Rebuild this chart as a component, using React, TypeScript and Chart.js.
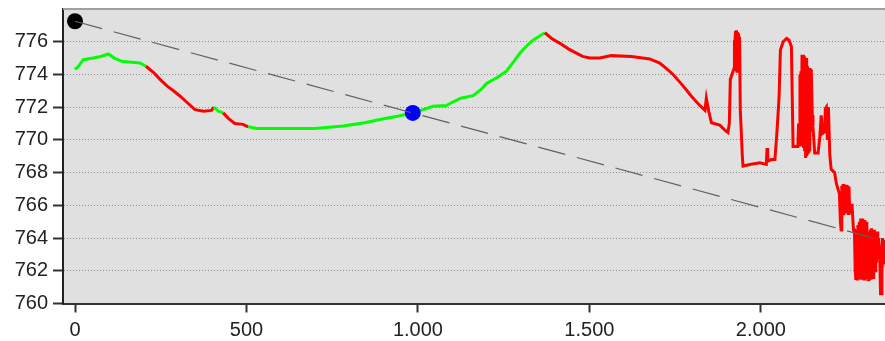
import React, { useEffect, useRef } from "react";
import { Chart, registerables } from "chart.js";

Chart.register(...registerables);

// Elevation profile: distance (m) and elevation (m)
const profileDistance = [
  0, 10, 24, 53, 75, 97, 115, 136, 165, 190, 207,
  230, 248, 268, 287, 305, 326, 350, 375, 398, 405,
  418, 432, 448, 466, 490, 505,
  530, 600, 700, 782, 845, 889, 940, 985, 1015, 1044, 1083, 1100, 1125, 1161, 1185, 1200,
  1230, 1258, 1280, 1297, 1320, 1336, 1370,
  1390, 1414, 1440, 1462, 1480, 1501, 1530, 1564, 1623, 1676, 1705, 1725, 1744, 1765, 1783,
  1800, 1822, 1837, 1841, 1848, 1853, 1856, 1880, 1895, 1904, 1908, 1911, 1919, 1922,
  1923, 1926, 1927.5, 1929, 1930.5, 1932, 1933.5, 1935, 1936.5, 1938, 1940, 1946, 1948,
  1968, 1997, 2016, 2018, 2020, 2031, 2041, 2047, 2053, 2057, 2065, 2075, 2082, 2089, 2094,
  2108, 2110, 2112, 2114, 2115.5, 2117, 2118.5, 2120, 2121.5, 2123, 2124.5, 2126, 2127.5, 2129,
  2130.5, 2132, 2133.5, 2135, 2136.5, 2138, 2139.5, 2141, 2142.5, 2144, 2145.5, 2147, 2150, 2152,
  2157, 2167, 2172, 2176, 2180, 2186, 2188, 2191, 2194, 2197, 2201, 2205, 2215, 2220, 2229,
  2232, 2234, 2236, 2238, 2240, 2242, 2244, 2246, 2249, 2251, 2253, 2255, 2257, 2259, 2262,
  2266, 2270, 2273, 2275, 2277, 2279, 2281, 2283, 2285, 2287, 2289, 2291, 2293, 2295, 2297,
  2299, 2301, 2303, 2305, 2307, 2309, 2311, 2313, 2315, 2317, 2319, 2321, 2323, 2325, 2327,
  2329, 2331, 2333, 2335, 2337, 2339, 2341, 2343, 2345, 2347, 2349, 2351, 2353, 2355, 2357,
  2359, 2361, 2365,
];
const profileElevation = [
  774.3, 774.5, 774.9, 775.0, 775.1, 775.25, 775.0, 774.8, 774.75, 774.7, 774.5,
  774.1, 773.7, 773.3, 773.0, 772.7, 772.3, 771.85, 771.75, 771.8, 772.0,
  771.75, 771.65, 771.3, 771.0, 770.95, 770.8,
  770.7, 770.7, 770.7, 770.85, 771.05, 771.25, 771.45, 771.65, 771.85, 772.05, 772.1, 772.3, 772.55, 772.7, 773.1, 773.45,
  773.8, 774.2, 774.8, 775.3, 775.8, 776.1, 776.55,
  776.2, 775.9, 775.55, 775.3, 775.1, 775.0, 775.0, 775.15, 775.1, 774.95, 774.7, 774.35, 774.0, 773.5, 773.05,
  772.6, 772.1, 771.8, 772.55, 771.75, 771.3, 771.05, 770.9, 770.6, 770.45, 771.0, 773.7, 774.2, 774.4,
  776.1, 776.65, 774.2, 776.7, 774.2, 776.6, 774.3, 776.5, 774.4, 776.3, 771.85, 769.0, 768.4,
  768.5, 768.6, 768.5, 769.5, 768.7, 768.8, 768.8, 770.5, 772.55, 775.5, 776.0, 776.2, 776.1, 775.7, 769.6,
  769.6, 771.0, 769.8, 774.0, 769.7, 774.2, 769.6, 775.2, 769.6, 775.2, 769.5, 775.1, 769.3, 775.0,
  768.9, 775.0, 769.0, 774.5, 769.1, 774.4, 769.2, 774.4, 769.3, 774.35, 770.5, 774.3, 771.5, 770.8,
  769.2, 769.2, 770.2, 771.5, 770.4, 770.5, 771.9, 772.0, 770.0, 772.0, 769.1, 768.2, 768.0, 767.35, 766.7,
  765.0, 764.5, 767.2, 765.4, 767.3, 765.4, 767.2, 765.5, 767.25, 765.5, 767.2, 765.5, 767.15, 765.5, 766.0,
  766.0, 764.5, 764.5, 762.0, 761.45, 764.5, 761.5, 764.8, 761.5, 765.0, 761.5, 765.2, 761.45, 765.2, 761.5,
  765.1, 761.5, 765.1, 761.5, 765.0, 761.5, 764.4, 761.45, 764.4, 762.0, 764.5, 761.45, 764.6, 762.0, 764.5,
  761.5, 764.5, 762.0, 764.4, 762.5, 764.4, 763.0, 764.0, 763.1, 762.5, 760.6, 760.6, 763.5, 764.0, 762.5,
  763.9, 763.0, 763.5,
];
// distance intervals where the profile is drawn green (rest is red)
const greenRanges = [
  [0, 207],
  [405, 432],
  [505, 1370],
  [1923, 1926],
];

// markers (start point black, current point blue)
const markerDistance = [0, 985];
const markerElevation = [777.25, 771.65];
const markerColors = ["#000000", "#0000ff"];

// dashed straight line
const trendDistance = [0, 2400];
const trendElevation = [777.25, 763.59];

const xTicks = [0, 500, 1000, 1500, 2000];
const yTicks = [760, 762, 764, 766, 768, 770, 772, 774, 776];

const fmt = (v: number) =>
  String(v).replace(/\B(?=(\d{3})+(?!\d))/g, ".");

const isGreen = (x: number) =>
  greenRanges.some(([a, b]) => x >= a && x < b);

export default function App() {
  const ref = useRef<HTMLCanvasElement | null>(null);

  useEffect(() => {
    if (!ref.current) return;
    const bgPlugin = {
      id: "bgPlugin",
      beforeDraw(chart: any) {
        const { ctx, chartArea, width, height } = chart;
        ctx.save();
        ctx.fillStyle = "#ffffff";
        ctx.fillRect(0, 0, width, height);
        ctx.fillStyle = "#e0e0e0";
        ctx.fillRect(
          chartArea.left,
          chartArea.top,
          chartArea.right - chartArea.left,
          chartArea.bottom - chartArea.top
        );
        ctx.restore();
      },
      afterDraw(chart: any) {
        const { ctx, chartArea } = chart;
        ctx.save();
        ctx.fillStyle = "#a0a0a0";
        ctx.fillRect(chartArea.left, chartArea.top - 1, chartArea.right - chartArea.left, 2);
        ctx.restore();
      },
    };

    const font = { family: "'Liberation Sans', Arial, sans-serif", size: 20 };

    const chart = new Chart(ref.current, {
      type: "scatter",
      data: {
        datasets: [
          {
            label: "trend",
            data: trendDistance.map((x, i) => ({ x, y: trendElevation[i] })),
            showLine: true,
            borderColor: "#606060",
            borderWidth: 1.2,
            borderDash: [28, 12],
            pointRadius: 0,
            order: 0,
          },
          {
            label: "markers",
            data: markerDistance.map((x, i) => ({ x, y: markerElevation[i] })),
            showLine: false,
            pointRadius: 8,
            pointBackgroundColor: markerColors,
            pointBorderColor: markerColors,
            pointBorderWidth: 0,
            order: 1,
          },
          {
            label: "profile",
            data: profileDistance.map((x, i) => ({ x, y: profileElevation[i] })),
            showLine: true,
            borderWidth: 3,
            borderColor: "#ff0000",
            borderJoinStyle: "miter",
            pointRadius: 0,
            tension: 0,
            segment: {
              borderColor: (c: any) =>
                isGreen(profileDistance[c.p0DataIndex]) ? "#00ff00" : "#ff0000",
            },
            order: 2,
          },
        ],
      },
      options: {
        animation: false,
        responsive: false,
        events: [],
        layout: { autoPadding: false, padding: { top: 9, left: 0, right: 0, bottom: 0 } },
        plugins: { legend: { display: false }, tooltip: { enabled: false } },
        scales: {
          x: {
            type: "linear",
            min: -35,
            max: 2362,
            afterBuildTicks: (s: any) => {
              s.ticks = xTicks.map((v) => ({ value: v }));
            },
            afterFit: (s: any) => {
              s.height = 37.5;
              s.paddingLeft = 0;
              s.paddingRight = 0;
            },
            grid: {
              drawOnChartArea: false,
              drawTicks: true,
              tickLength: 9,
              tickColor: "#333333",
              tickWidth: 2,
            },
            border: { display: true, color: "#333333", width: 2 },
            ticks: {
              font,
              color: "#222222",
              padding: 6,
              maxRotation: 0,
              autoSkip: false,
              callback: (v: any) => fmt(Number(v)),
            },
          },
          y: {
            type: "linear",
            min: 760,
            max: 778,
            afterBuildTicks: (s: any) => {
              s.ticks = yTicks.map((v) => ({ value: v }));
            },
            afterFit: (s: any) => {
              s.width = 63;
              s.paddingTop = 0;
              s.paddingBottom = 0;
            },
            grid: {
              color: "#8c8c8c",
              lineWidth: 1,
              drawTicks: true,
              tickLength: 10,
              tickColor: "#333333",
              tickWidth: 2,
              tickBorderDash: [],
            },
            border: { display: true, color: "#222222", width: 2, dash: [1, 2] },
            ticks: {
              font,
              color: "#222222",
              padding: 5,
              autoSkip: false,
              callback: (v: any) => String(v),
            },
          },
        },
      },
      plugins: [bgPlugin],
    } as any);
    return () => chart.destroy();
  }, []);

  return (
    <div style={{ position: "fixed", left: 0, top: 0, width: 885, height: 341, background: "#fff" }}>
      <canvas ref={ref} width={885} height={341} style={{ display: "block" }} />
    </div>
  );
}
